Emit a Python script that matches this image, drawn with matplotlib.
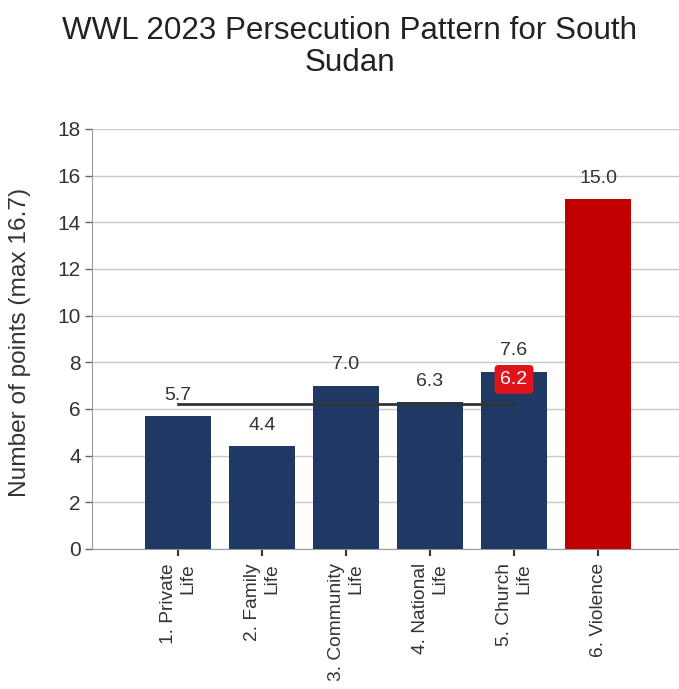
import matplotlib
matplotlib.use("Agg")
import matplotlib.pyplot as plt

# data
categories = ["1. Private\nLife", "2. Family\nLife", "3. Community\nLife",
              "4. National\nLife", "5. Church\nLife", "6. Violence"]
scores = [5.7, 4.4, 7.0, 6.3, 7.6, 15.0]
bar_colors = ["#1f3864", "#1f3864", "#1f3864", "#1f3864", "#1f3864", "#c00000"]
average_score = 6.2          # mean of blocks 1-5
y_ticks = [0, 2, 4, 6, 8, 10, 12, 14, 16, 18]

plt.rcParams["font.family"] = ["Liberation Sans", "DejaVu Sans"]

fig = plt.figure(figsize=(6.79, 6.89), dpi=100)
ax = fig.add_axes([92 / 679, 140 / 689, 587 / 679, 420 / 689])

x = list(range(len(categories)))
ax.bar(x, scores, width=0.79, color=bar_colors, zorder=3)

# value labels above the bars
for xi, v in zip(x, scores):
    ax.annotate(f"{v:.1f}", (xi, v), xytext=(0, 15), textcoords="offset points",
                ha="center", va="center", fontsize=14, color="#333333", zorder=5)

# average line over the first five blocks
ax.plot([x[0], x[4]], [average_score, average_score], color="#333333", lw=2, zorder=4)
ax.annotate(f"{average_score:.1f}", (x[4], average_score), xytext=(0, 18),
            textcoords="offset points", ha="center", va="center", fontsize=14,
            color="white", zorder=6,
            bbox=dict(boxstyle="round,pad=0.3,rounding_size=0.2",
                      facecolor="#e2141b", edgecolor="none"))

ax.set_xlim(-1.024, 5.964)
ax.set_ylim(0, 18)
ax.set_yticks(y_ticks)
ax.set_yticklabels([str(t) for t in y_ticks])
ax.set_xticks(x)
ax.set_xticklabels(categories, rotation=90, ma="right", fontsize=13.8, color="#333333")

ax.grid(axis="y", color="#c8c8c8", lw=1, zorder=0)
for side in ["top", "right"]:
    ax.spines[side].set_visible(False)
ax.spines["left"].set_color("#999999")
ax.spines["bottom"].set_color("#999999")
ax.tick_params(axis="y", labelsize=15, colors="#333333", length=5, width=1,
               color="#666666", pad=3)
ax.tick_params(axis="x", length=5, width=1.5, color="#333333", pad=5)

fig.text(20 / 679, 1 - 342 / 689, "Number of points (max 16.7)", rotation=90,
         ha="center", va="center", fontsize=17.6, color="#333333")
fig.text(0.515, 1 - 47 / 689, "WWL 2023 Persecution Pattern for South\nSudan",
         ha="center", va="center", fontsize=22.6, color="#222222", linespacing=1.12)

fig.savefig("out.png", dpi=100)
